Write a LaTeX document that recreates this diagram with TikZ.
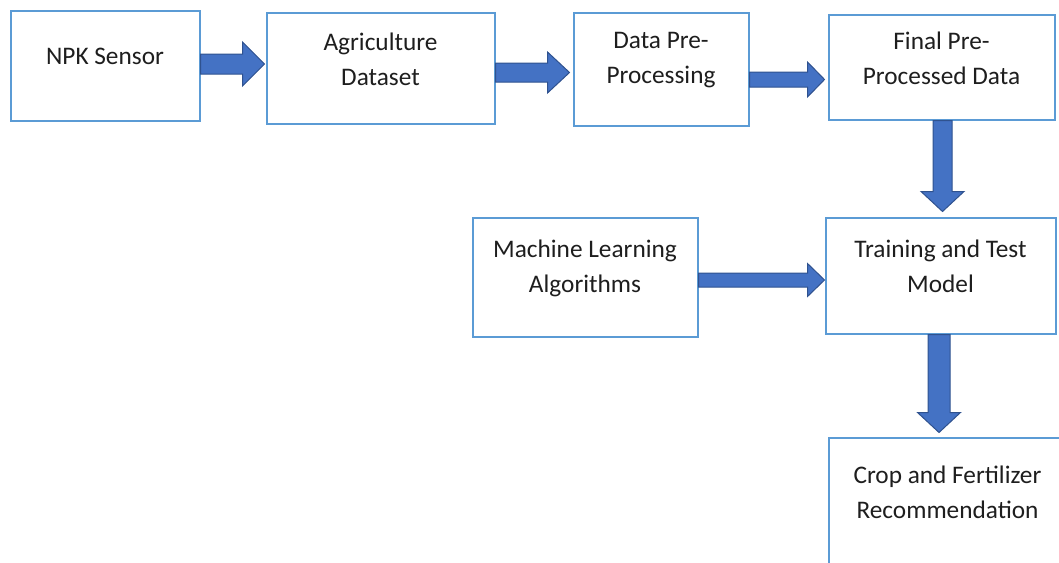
\documentclass[tikz,border=0pt]{standalone}
\usepackage{fontspec}
\setmainfont{Carlito}
\usepackage{tikz}
\usetikzlibrary{calc}

\definecolor{boxedge}{HTML}{5B9BD5}
\definecolor{arrowfill}{HTML}{4472C4}
\definecolor{arrowedge}{HTML}{2F528F}
\definecolor{boxtextcol}{HTML}{1E1E1E}

\begin{document}
\begin{tikzpicture}[
  x = 1pt,
  y = -1pt,
  harrow/.style n args = {3}{to path = {
    let \p1 = (\tikztostart), \p2 = (\tikztotarget) in
    (\x1,{\y1+#1}) -- ({\x2-#3},{\y1+#1}) -- ({\x2-#3},{\y1+#2}) -- (\x2,\y1)
    -- ({\x2-#3},{\y1-#2}) -- ({\x2-#3},{\y1-#1}) -- (\x1,{\y1-#1}) -- cycle}},
  varrow/.style n args = {3}{to path = {
    let \p1 = (\tikztostart), \p2 = (\tikztotarget) in
    ({\x1+#1},\y1) -- ({\x1+#1},{\y2+#3}) -- ({\x1+#2},{\y2+#3}) -- (\x1,\y2)
    -- ({\x1-#2},{\y2+#3}) -- ({\x1-#1},{\y2+#3}) -- ({\x1-#1},\y1) -- cycle}}
  ]

  \tikzstyle{box}=[
  draw = boxedge,
  line width = 2pt,
  fill = white,
  rectangle,
  inner sep = 0pt
  ]
  \tikzstyle{boxtext}=[
  align = center,
  text = boxtextcol,
  font = \fontsize{25.3}{35}\selectfont,
  yshift = 9pt
  ]
  \tikzstyle{block}=[
  fill = arrowfill,
  draw = arrowedge,
  line width = 1pt,
  line join = miter
  ]

  \useasboundingbox (0,0) rectangle (1059,562);

  \node[box, minimum width = 189, minimum height = 110,
    label = {[boxtext, name = npktext]center:NPK Sensor}] (npk) at (105,65.5) {};
  \node[box, minimum width = 228, minimum height = 111,
    label = {[boxtext, name = agritext]center:{Agriculture\\Dataset}}] (agri) at (380.5,68) {};
  \node[box, minimum width = 175, minimum height = 113,
    label = {[boxtext, name = pretext]center:{Data Pre-\\Processing}}] (pre) at (661,69) {};
  \node[box, minimum width = 226, minimum height = 105,
    label = {[boxtext, name = finaltext]center:{Final Pre-\\Processed Data}}] (final) at (941.5,67) {};
  \node[box, minimum width = 225, minimum height = 119,
    label = {[boxtext, name = mltext]center:{Machine Learning\\Algorithms}}] (ml) at (585,277) {};
  \node[box, minimum width = 230, minimum height = 116,
    label = {[boxtext, name = traintext]center:{Training and Test\\Model}}] (train) at (940.5,275.5) {};
  \node[box, minimum width = 238, minimum height = 128,
    label = {[boxtext, name = croptext]center:{Crop and Fertilizer\\Recommendation}}] (crop) at (947.5,501.5) {};

  \path[block, harrow = {10pt}{22pt}{22pt}] ([yshift=1.5pt]npk.east) to ([xshift=-1pt]agri.west);
  \path[block, harrow = {9.5pt}{20.5pt}{22pt}] ([yshift=-4.5pt]agri.east) to ([xshift=-3pt]pre.west);
  \path[block, harrow = {7.5pt}{17.5pt}{17pt}] ([yshift=-10.5pt]pre.east) to ([xshift=-3pt]final.west);
  \path[block, harrow = {7pt}{16.5pt}{17pt}] ([yshift=-3pt]ml.east) to (train.west);
  \path[block, varrow = {9.5pt}{21.5pt}{20pt}] ([xshift=1pt]final.south) to ([yshift=5pt]train.north);
  \path[block, varrow = {11pt}{21.5pt}{20pt}] ([xshift=-1.5pt]train.south) to ([yshift=4pt]crop.north);

\end{tikzpicture}
\end{document}
